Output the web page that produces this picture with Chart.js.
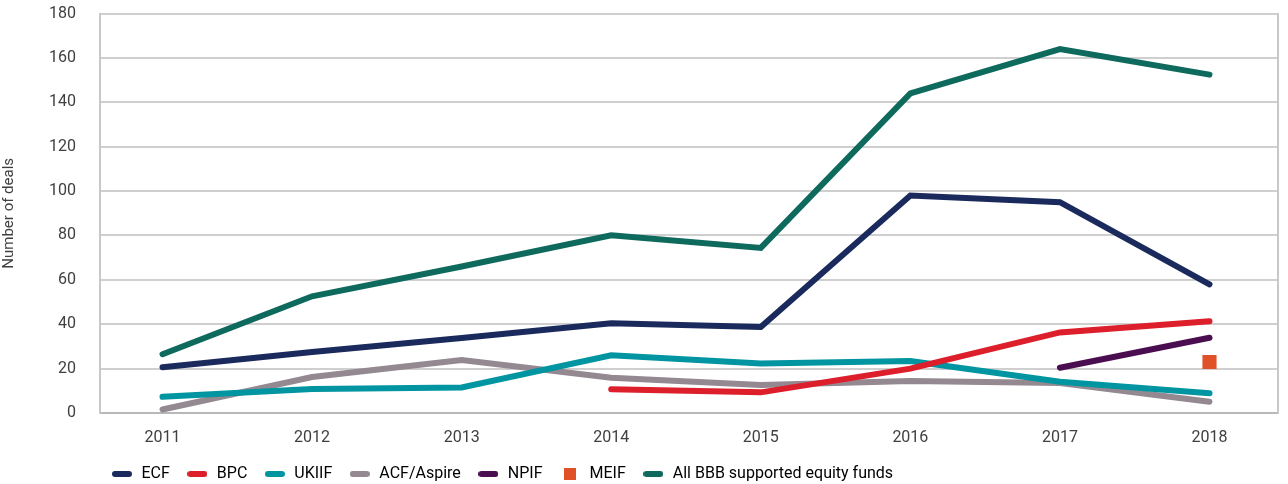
<!DOCTYPE html>
<html>
<head>
<meta charset="utf-8">
<script src="https://cdn.jsdelivr.net/npm/chart.js@4.4.0/dist/chart.umd.min.js"></script>
<style>
  html, body { margin: 0; padding: 0; background: #fff; }
</style>
</head>
<body>
<canvas id="chart" width="1288" height="484"></canvas>
<script>
// Years on the x axis
const years = [2011, 2012, 2013, 2014, 2015, 2016, 2017, 2018];
const yTicks = [0, 20, 40, 60, 80, 100, 120, 140, 160, 180];

// Number of deals per fund (null = no data that year)
const ecf    = [20.6, 27.5, 33.8, 40.4, 38.8, 98, 95, 58];
const bpc    = [null, null, null, 10.7, 9.3, 20, 36.3, 41.4];
const ukiif  = [7.3, 10.8, 11.5, 26, 22.3, 23.4, 14.1, 8.9];
const acf    = [1.6, 16.2, 23.9, 15.9, 12.6, 14.4, 13.5, 5.1];
const npif   = [null, null, null, null, null, null, 20.4, 33.9];
const meif   = [null, null, null, null, null, null, null, 23];
const allBbb = [26.5, 52.6, 66, 80.1, 74.4, 144, 164, 152.5];

const seriesNames  = ['ECF', 'BPC', 'UKIIF', 'ACF/Aspire', 'NPIF', 'MEIF', 'All BBB supported equity funds'];
const seriesValues = [ecf, bpc, ukiif, acf, npif, meif, allBbb];
const seriesColors = ['#1b2a5c', '#dc1f2a', '#0095a0', '#948891', '#4a0d4f', '#e05128', '#0f6a5e'];

Chart.defaults.font.family = 'Roboto, "Open Sans", sans-serif';
Chart.defaults.font.size = 16;
Chart.defaults.color = '#404040';

// small canvases used as legend swatches
function swatch(color, square) {
  const c = document.createElement('canvas');
  const g = c.getContext('2d');
  if (square) {
    c.width = 12; c.height = 12;
    g.fillStyle = color;
    g.fillRect(0, 0, 12, 12);
  } else {
    c.width = 20; c.height = 6;
    g.strokeStyle = color;
    g.lineWidth = 6;
    g.lineCap = 'round';
    g.beginPath();
    g.moveTo(3, 3);
    g.lineTo(17, 3);
    g.stroke();
  }
  return c;
}

const datasets = seriesNames.map((name, i) => {
  const pts = [];
  years.forEach((yr, j) => {
    if (seriesValues[i][j] != null) pts.push({ x: yr, y: seriesValues[i][j] });
  });
  const isMarker = name === 'MEIF';
  return {
    label: name,
    data: pts,
    borderColor: seriesColors[i],
    backgroundColor: seriesColors[i],
    borderWidth: isMarker ? 0 : 6,
    borderCapStyle: 'round',
    borderJoinStyle: 'miter',
    showLine: !isMarker,
    pointRadius: isMarker ? 10 : 0,
    pointStyle: isMarker ? 'rect' : 'circle',
    tension: 0
  };
});

// Move the legend so it starts under the plot, as in the original
const legendShift = {
  id: 'legendShift',
  afterLayout(chart) {
    const lg = chart.legend;
    const dx = 110.5 - 16 - lg.left;
    lg.left += dx; lg.right += dx;
    lg.top += 8; lg.bottom += 8;
  }
};

new Chart(document.getElementById('chart'), {
  type: 'line',
  data: { datasets },
  plugins: [legendShift],
  options: {
    responsive: false,
    animation: false,
    layout: { padding: { top: 13, right: 1, left: 0, bottom: 0 } },
    plugins: {
      tooltip: { enabled: false },
      legend: {
        position: 'bottom',
        align: 'start',
        labels: {
          usePointStyle: true,
          pointStyleWidth: 23,
          padding: 16,
          color: '#404040',
          font: { size: 16 },
          generateLabels: chart => chart.data.datasets.map((ds, i) => ({
            text: ds.label,
            pointStyle: swatch(seriesColors[i], ds.label === 'MEIF'),
            fillStyle: seriesColors[i],
            strokeStyle: seriesColors[i],
            lineWidth: 0,
            hidden: false,
            datasetIndex: i
          }))
        }
      }
    },
    scales: {
      x: {
        type: 'linear',
        min: 2010.582,
        max: 2018.458,
        afterFit: s => { s.height = 29; },
        grid: { display: false, drawTicks: false },
        border: { display: true, color: '#b8b8b8', width: 2 },
        ticks: {
          stepSize: 1,
          includeBounds: false,
          padding: 15,
          font: { size: 16 },
          callback: v => String(v)
        }
      },
      y: {
        min: yTicks[0],
        max: yTicks[yTicks.length - 1],
        afterFit: s => { s.width = 100; },
        grid: { color: '#cfcfcf', lineWidth: 2, drawTicks: true, tickLength: 20, tickColor: 'rgba(0,0,0,0)' },
        border: { display: true, color: '#c8c8c8', width: 2 },
        ticks: { stepSize: yTicks[1] - yTicks[0], padding: 4, font: { size: 16 } },
        title: {
          display: true,
          text: 'Number of deals',
          font: { size: 15 },
          padding: { top: 0, bottom: 0 }
        }
      },
      y2: {
        position: 'right',
        min: 0,
        max: 180,
        afterFit: s => { s.width = 0; },
        grid: { display: false, drawTicks: false },
        ticks: { display: false },
        border: { display: true, color: '#c8c8c8', width: 2 }
      }
    }
  }
});
</script>
</body>
</html>
